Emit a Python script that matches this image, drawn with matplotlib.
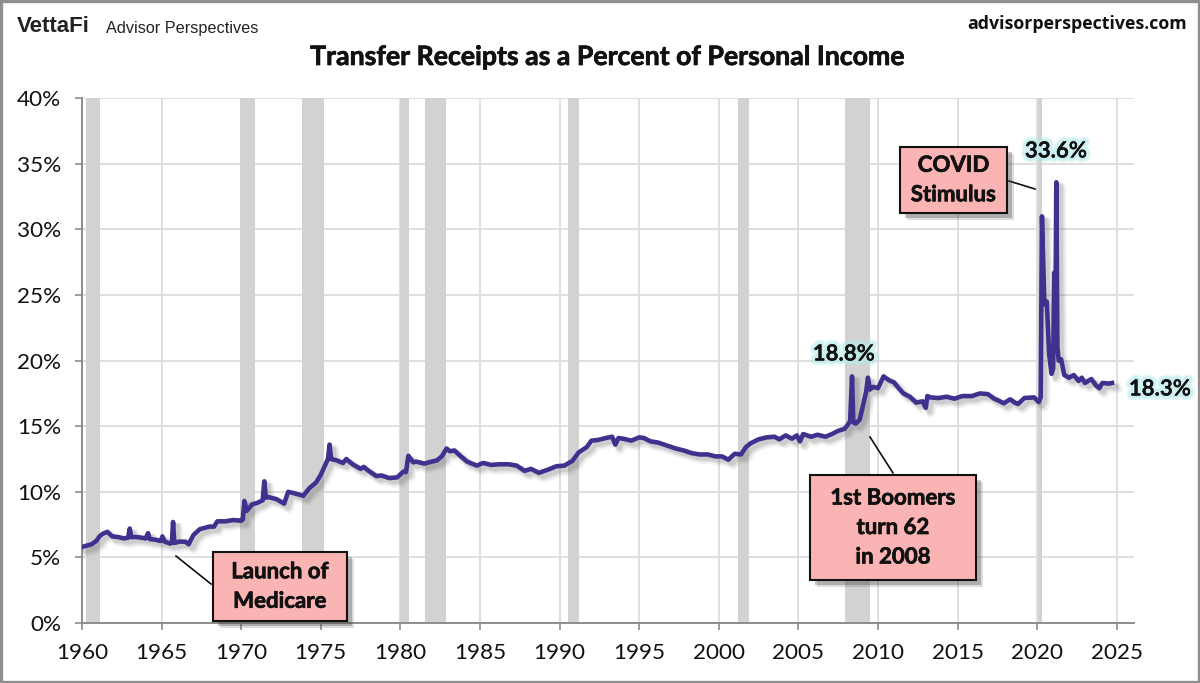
import matplotlib
matplotlib.use("Agg")
import matplotlib.pyplot as plt
import matplotlib.patheffects as pe
from matplotlib.patches import Rectangle
from matplotlib.lines import Line2D

W, H = 1200, 683

years = [
 1960.0,1960.3,1960.6,1960.9,1961.1,1961.3,1961.6,1961.9,1962.3,1962.6,1962.9,1963.0,1963.1,1963.5,1964.0,1964.15,1964.25,1964.6,
 1964.95,1965.05,1965.2,1965.55,1965.65,1965.72,1965.8,1966.1,1966.5,1966.7,1967.0,1967.4,1968.0,1968.3,1968.5,1969.0,1969.5,1970.0,
 1970.1,1970.2,1970.35,1970.7,1971.0,1971.35,1971.45,1971.55,1971.7,1972.2,1972.7,1972.95,1973.3,1973.9,1974.3,1974.7,1975.0,1975.3,
 1975.45,1975.55,1975.65,1976.0,1976.4,1976.6,1977.0,1977.5,1977.7,1978.0,1978.5,1978.8,1979.3,1979.8,1980.2,1980.35,1980.5,1980.8,
 1981.0,1981.5,1981.8,1982.3,1982.6,1982.9,1983.1,1983.4,1983.8,1984.2,1984.8,1985.2,1985.7,1986.2,1986.8,1987.3,1987.8,1988.2,
 1988.7,1989.3,1989.8,1990.3,1990.8,1991.2,1991.7,1992.0,1992.4,1992.9,1993.3,1993.5,1993.7,1994.0,1994.5,1995.0,1995.3,1995.7,
 1996.2,1996.8,1997.3,1997.8,1998.3,1998.8,1999.3,1999.8,2000.2,2000.6,2001.0,2001.4,2001.7,2002.0,2002.5,2003.0,2003.5,2003.8,
 2004.2,2004.6,2004.9,2005.1,2005.3,2005.8,2006.2,2006.7,2007.1,2007.5,2007.9,2008.1,2008.25,2008.37,2008.45,2008.6,2008.85,2009.1,
 2009.25,2009.37,2009.5,2009.7,2010.0,2010.35,2010.7,2011.0,2011.3,2011.6,2012.0,2012.4,2012.8,2013.0,2013.1,2013.3,2013.8,2014.3,
 2014.8,2015.3,2015.9,2016.4,2016.9,2017.3,2017.5,2017.9,2018.3,2018.6,2018.8,2019.2,2019.8,2020.1,2020.22,2020.3,2020.45,2020.6,
 2020.75,2020.9,2021.0,2021.07,2021.13,2021.2,2021.27,2021.35,2021.5,2021.7,2022.0,2022.3,2022.6,2022.8,2023.0,2023.4,2023.7,2023.9,
 2024.1,2024.5,2024.7,
]
transfer_pct = [
 5.8,5.9,6.0,6.25,6.6,6.8,6.95,6.6,6.55,6.45,6.5,7.2,6.55,6.55,6.45,6.85,6.4,6.35,
 6.25,6.6,6.2,6.05,6.2,7.7,6.1,6.2,6.2,6.0,6.7,7.15,7.35,7.35,7.75,7.75,7.85,7.8,
 7.9,9.3,8.55,9.05,9.15,9.35,10.8,9.55,9.6,9.45,9.1,10.0,9.9,9.7,10.3,10.7,11.3,12.1,
 12.5,13.6,12.5,12.4,12.2,12.5,12.1,11.75,11.9,11.6,11.2,11.25,11.05,11.1,11.55,11.5,12.75,12.25,
 12.3,12.15,12.25,12.4,12.7,13.3,13.1,13.15,12.7,12.3,12.0,12.2,12.05,12.1,12.1,12.0,11.6,11.75,
 11.45,11.7,11.95,12.0,12.35,13.0,13.4,13.9,13.95,14.1,14.2,13.6,14.1,14.05,13.9,14.15,14.1,13.85,
 13.75,13.5,13.3,13.15,12.95,12.85,12.85,12.7,12.7,12.45,12.9,12.85,13.4,13.7,14.0,14.15,14.2,14.0,
 14.3,14.05,14.3,13.85,14.4,14.2,14.35,14.2,14.4,14.65,14.8,15.1,15.4,18.8,15.3,15.2,15.5,16.8,
 17.6,18.7,17.8,18.0,17.9,18.8,18.5,18.35,17.9,17.5,17.25,16.8,16.9,16.4,17.3,17.2,17.15,17.25,
 17.1,17.3,17.3,17.5,17.45,17.1,17.0,16.75,17.05,16.8,16.7,17.15,17.2,16.85,17.2,31.0,24.3,24.5,
 20.5,19.0,19.4,26.7,21.0,33.6,21.0,20.0,20.1,18.9,18.7,18.9,18.45,18.7,18.3,18.6,18.1,17.9,
 18.3,18.25,18.3,
]
rec_start = [1960.28,1969.92,1973.85,1980.0,1981.53,1990.55,2001.2,2007.95,2020.08]
rec_end   = [1961.1,1970.87,1975.2,1980.55,1982.88,1991.2,2001.88,2009.47,2020.3]
x_ticks = list(range(1960, 2026, 5))
y_ticks = [0, 5, 10, 15, 20, 25, 30, 35, 40]
title = "Transfer Receipts as a Percent of Personal Income"

FONT = "Lato"
fig = plt.figure(figsize=(W/100, H/100), dpi=100, facecolor="white")
ax = fig.add_axes([82/W, 1-623/H, (1134-82)/W, (623-98.3)/H])
ax.set_xlim(1960, 1960+(1134-82)/15.92)
ax.set_ylim(0, 40)

GRID = "#dcdcdc"
ax.set_axisbelow(True)
ax.grid(True, color=GRID, lw=1.3)
for s, e in zip(rec_start, rec_end):
    ax.axvspan(s, e, color="#d2d2d2", lw=0, zorder=1)
for sp in ("top", "right"):
    ax.spines[sp].set_visible(False)
for sp in ("left", "bottom"):
    ax.spines[sp].set_color("#8c8c8c")
    ax.spines[sp].set_linewidth(1.4)
ax.set_xticks(x_ticks)
ax.set_yticks(y_ticks)
ax.set_yticklabels([f"{v}%" for v in y_ticks])
ax.tick_params(axis="both", length=5, width=1.2, color="#8c8c8c", labelsize=16.2, labelcolor="#111111")
ax.tick_params(axis="y", pad=10)
ax.tick_params(axis="x", pad=9.5)
for lab in ax.get_xticklabels() + ax.get_yticklabels():
    lab.set_fontfamily(FONT)

shadow = [pe.SimpleLineShadow(offset=(o, -o), alpha=a, shadow_color="#666666", linewidth=w)
          for o, a, w in [(3.6, .08, 7), (3.2, .12, 5), (2.8, .16, 3.4)]]
ax.plot(years, transfer_pct, color="#40318f", lw=3.3, solid_joinstyle="round", zorder=5,
        path_effects=shadow + [pe.Normal()])

def fx(p): return p / W
def fy(p): return 1 - p / H

heavy = [pe.withStroke(linewidth=0.5, foreground="#111111")]

def note(x0, y0, x1, y1, lines, size=16):
    box_sh = [pe.SimplePatchShadow(offset=(o, -o), alpha=a, shadow_rgbFace="#444444")
              for o, a in [(5, .18), (3.5, .3)]]
    fig.add_artist(Rectangle((fx(x0), fy(y1)), fx(x1-x0), (y1-y0)/H, transform=fig.transFigure,
                             fc="#fbb4b4", ec="#111111", lw=1.5, zorder=6,
                             path_effects=box_sh + [pe.Normal()]))
    fig.text(fx((x0+x1)/2), fy((y0+y1)/2), lines, ha="center", va="center", fontsize=size,
             fontweight="bold", family=FONT, color="#111111", linespacing=1.5, zorder=7,
             path_effects=heavy)

def leader(x0, y0, x1, y1):
    fig.add_artist(Line2D([fx(x0), fx(x1)], [fy(y0), fy(y1)], color="#111111", lw=1.2,
                          transform=fig.transFigure, zorder=5.5))

leader(176, 556, 211, 584)
leader(870, 437, 893, 473)
leader(1009, 181, 1035, 189)
note(213, 552, 347, 621, "Launch of\nMedicare")
note(810, 475, 976, 580, "1st Boomers\nturn 62\nin 2008")
note(900, 147, 1007, 213, "COVID\nStimulus")

glow = [pe.withStroke(linewidth=w, foreground="#b5ecea", alpha=a) for w, a in [(7, .35), (4.5, .5)]]
for x, y, s in [(844, 354, "18.8%"), (1056, 151, "33.6%"), (1160, 389, "18.3%")]:
    fig.text(fx(x), fy(y), s, ha="center", va="center", fontsize=16, fontweight="bold",
             family=FONT, color="#111111", zorder=8, path_effects=glow + [pe.Normal()])

fig.text(fx(607.5), fy(57), title, ha="center", va="center", fontsize=19.2, fontweight="bold",
         family=FONT, color="#111111", path_effects=heavy)
fig.text(fx(17), fy(27), "VettaFi", ha="left", va="center", fontsize=16, fontweight="bold",
         family="Liberation Sans", color="#222222")
fig.text(fx(106), fy(29), "Advisor Perspectives", ha="left", va="center", fontsize=11.7,
         family="Liberation Sans", color="#222222")
fig.text(fx(1187), fy(24), "advisorperspectives.com", ha="right", va="center", fontsize=12.8,
         fontweight="bold", family="Open Sans", color="#111111")

fig.add_artist(Rectangle((0.001, 0.002), 0.998, 0.996, transform=fig.transFigure, fill=False,
                         ec="#8f8f8f", lw=2.4, zorder=10))
fig.savefig("out.png", dpi=100)
